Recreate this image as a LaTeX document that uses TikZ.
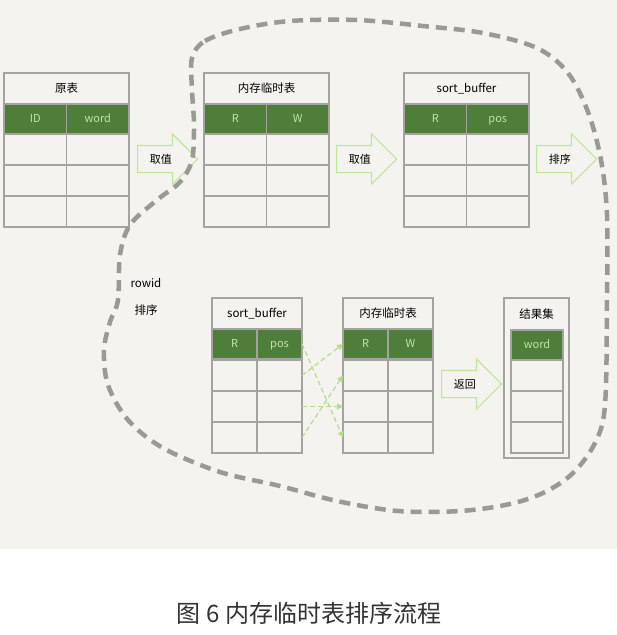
\documentclass[tikz,border=0pt]{standalone}
\usepackage{fontspec}
\setmainfont{Noto Sans CJK SC}
\usetikzlibrary{shapes.arrows,arrows.meta,positioning}
\definecolor{paper}{HTML}{F4F3EF}
\definecolor{grid}{HTML}{A3A39F}
\definecolor{leaf}{HTML}{4E7E3A}
\definecolor{sprout}{HTML}{C2E59C}
\definecolor{pointer}{HTML}{B5DB8C}
\definecolor{ringgray}{HTML}{9A9994}
\definecolor{capgray}{HTML}{333333}

\begin{document}
\begin{tikzpicture}[x=1pt, y=-1pt,
        cell/.style={rectangle, draw=grid, line width=1.2pt, minimum width=62.5pt, minimum height=31pt,
            inner sep=0pt, outer sep=0pt, anchor=north west},
        head/.style={cell, fill=leaf, text=sprout, minimum height=30pt, text height=8.5pt, text depth=1.5pt,
            font=\fontsize{11}{13}\selectfont},
        tname/.style={cell, minimum width=125pt, font=\fontsize{11.5}{13}\selectfont},
        flow/.style={single arrow, draw=sprout, line width=1.2pt, fill=paper, single arrow head extend=11.5pt,
            minimum height=60pt, text height=17pt, text depth=9pt, inner xsep=2pt, inner ysep=0pt,
            anchor=tail, font=\fontsize{11}{12}\selectfont},
        link/.style={-{Triangle[length=6pt,width=6pt]}, draw=pointer, line width=1.2pt, dash pattern=on 5pt off 3pt},
        ring/.style={draw=ringgray, line width=4.5pt, dash pattern=on 11pt off 7pt}
    ]
    \fill[white] (0,0) rectangle (617,635);
    \fill[paper] (0,0) rectangle (617,549);
    \useasboundingbox (0,0) rectangle (617,635);

    % 原表
    \node[tname] (origT) at (4,73) {原表};
    \node[head] (origA) at (origT.south west) {ID};
    \node[head] (origB) at (origA.north east) {word};
    \foreach \i/\y in {1/134,2/165,3/196} {
        \node[cell] (orig\i a) at (4,\y) {};
        \node[cell] (orig\i b) at (66.5,\y) {};
    }

    % 内存临时表 (top)
    \node[tname] (tmp1T) at (204,73) {内存临时表};
    \node[head] (tmp1A) at (tmp1T.south west) {R};
    \node[head] (tmp1B) at (tmp1A.north east) {W};
    \foreach \i/\y in {1/134,2/165,3/196} {
        \node[cell] (tmp1\i a) at (204,\y) {};
        \node[cell] (tmp1\i b) at (266.5,\y) {};
    }

    % sort_buffer (top)
    \node[tname] (sbuf1T) at (404,73) {sort\_buffer};
    \node[head] (sbuf1A) at (sbuf1T.south west) {R};
    \node[head] (sbuf1B) at (sbuf1A.north east) {pos};
    \foreach \i/\y in {1/134,2/165,3/196} {
        \node[cell] (sbuf1\i a) at (404,\y) {};
        \node[cell] (sbuf1\i b) at (466.5,\y) {};
    }

    % sort_buffer (bottom)
    \node[tname, minimum width=90pt] (sbuf2T) at (212,298) {sort\_buffer};
    \node[head, minimum width=45pt] (sbuf2A) at (sbuf2T.south west) {R};
    \node[head, minimum width=45pt] (sbuf2B) at (sbuf2A.north east) {pos};
    \foreach \i/\y in {1/360,2/391,3/422} {
        \node[cell, minimum width=45pt] (sbuf2r\i a) at (212,\y) {};
        \node[cell, minimum width=45pt] (sbuf2r\i b) at (257,\y) {};
    }

    % 内存临时表 (bottom)
    \node[tname, minimum width=90pt] (tmp2T) at (343,298) {内存临时表};
    \node[head, minimum width=45pt] (tmp2A) at (tmp2T.south west) {R};
    \node[head, minimum width=45pt] (tmp2B) at (tmp2A.north east) {W};
    \foreach \i/\y in {1/360,2/391,3/422} {
        \node[cell, minimum width=45pt] (tmp2r\i a) at (343,\y) {};
        \node[cell, minimum width=45pt] (tmp2r\i b) at (388,\y) {};
    }

    % 结果集
    \node[cell, minimum width=65pt, minimum height=160pt] (res) at (504,298) {};
    \node[font=\fontsize{11.5}{13}\selectfont] (resT) at (536.5,314) {结果集};
    \node[head, minimum width=52pt] (resA) at (511,330) {word};
    \foreach \i/\y in {1/360,2/391,3/422} {
        \node[cell, minimum width=52pt] (res\i) at (511,\y) {};
    }

    % block arrows
    \node[flow] (pick1) at (137,159) {取值};
    \node[flow] (pick2) at (336,159) {取值};
    \node[flow] (sort1) at (536,159) {排序};
    \node[flow] (back) at (441,384) {返回};

    % rowid pointers
    \draw[link] (sbuf2B.east) -- (tmp2r3a.west);
    \draw[link] (sbuf2r1b.east) -- (tmp2A.west);
    \draw[link] (sbuf2r2b.east) -- (tmp2r2a.west);
    \draw[link] (sbuf2r3b.east) -- (tmp2r1a.west);

    \node[anchor=west, align=left, font=\fontsize{11.5}{27}\selectfont] (rowsort) at (127,297) {rowid\\\hspace{4pt}排序};

    % dashed boundary
    \draw[ring] plot[smooth cycle, tension=0.55] coordinates {
        (192,58) (205,41) (240,29) (290,21) (357,20) (423,26) (483,33) (537,48) (568,73) (588,112)
        (601,160) (607,215) (607,300) (605,405) (595,443) (573,473) (545,492) (510,504) (460,511)
        (398,511) (337,501) (280,486) (220,472) (163,448) (128,420) (108,385) (104,350) (110,322)
        (118,300) (120,255) (130,225) (157,200) (180,182) (192,160) (194,125) (192,90)};

    \node[font=\fontsize{24}{27}\selectfont, text=capgray] (cap) at (309,613) {图~6 内存临时表排序流程};
\end{tikzpicture}
\end{document}
